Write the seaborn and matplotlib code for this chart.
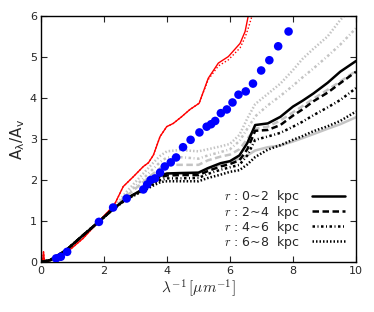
import numpy as np
import pandas as pd
import matplotlib
matplotlib.use('Agg')
import matplotlib.pyplot as plt
import seaborn as sns

# observed extinction curve (blue dots)
obs_x = [0.48, 0.63, 0.83, 1.84, 2.29, 2.72, 3.25, 3.37, 3.48, 3.62, 3.78, 3.93, 4.12, 4.29,
         4.51, 4.75, 5.03, 5.26, 5.40, 5.53, 5.71, 5.90, 6.08, 6.27, 6.50, 6.73, 6.99, 7.25,
         7.53, 7.86]
obs_y = [0.09, 0.13, 0.25, 0.98, 1.33, 1.55, 1.77, 1.89, 2.00, 2.04, 2.18, 2.33, 2.43, 2.55,
         2.80, 2.98, 3.16, 3.30, 3.36, 3.44, 3.63, 3.72, 3.89, 4.08, 4.16, 4.35, 4.67, 4.92,
         5.26, 5.62]

# red curves
red_x = [0.0, 0.05, 0.08, 0.11, 0.15, 0.39, 0.81, 1.34, 1.77, 2.19, 2.35, 2.61, 2.93, 3.25,
         3.41, 3.57, 3.78, 3.99, 4.20, 4.46, 4.73, 5.02, 5.31, 5.63, 5.95, 6.32, 6.48, 6.58, 6.70]
red_y = [0.0, 0.02, 0.25, 0.02, 0.0, 0.07, 0.23, 0.58, 0.94, 1.28, 1.43, 1.84, 2.08, 2.33,
         2.42, 2.61, 3.06, 3.30, 3.38, 3.54, 3.72, 3.87, 4.48, 4.85, 5.01, 5.33, 5.62, 6.00, 6.30]
red_dot_y = [0.0, 0.02, 0.25, 0.02, 0.0, 0.07, 0.23, 0.58, 0.94, 1.28, 1.43, 1.84, 2.08, 2.33,
             2.42, 2.61, 3.06, 3.30, 3.38, 3.54, 3.72, 3.87, 4.45, 4.78, 4.93, 5.22, 5.48, 5.70, 6.00]

# model curves (common grid)
grid = [0.0, 0.3, 0.8, 1.3, 1.8, 2.3, 2.7, 3.2, 3.6, 3.8, 4.0, 4.4, 5.0, 5.3, 5.7, 6.0, 6.3,
        6.55, 6.8, 7.2, 7.6, 8.0, 8.3, 8.65, 9.1, 9.5, 10.0]
black_r0 = [0.0, 0.05, 0.29, 0.63, 0.96, 1.30, 1.54, 1.76, 1.98, 2.11, 2.16, 2.17, 2.18, 2.29,
            2.41, 2.46, 2.60, 2.90, 3.34, 3.38, 3.54, 3.79, 3.93, 4.11, 4.37, 4.64, 4.90]
black_r2 = [0.0, 0.05, 0.29, 0.63, 0.96, 1.30, 1.54, 1.75, 1.95, 2.07, 2.11, 2.12, 2.12, 2.22,
            2.33, 2.39, 2.48, 2.75, 3.20, 3.22, 3.34, 3.57, 3.72, 3.92, 4.13, 4.36, 4.64]
black_r4 = [0.0, 0.05, 0.29, 0.63, 0.96, 1.30, 1.53, 1.74, 1.92, 2.00, 2.04, 2.04, 2.05, 2.15,
            2.25, 2.31, 2.37, 2.60, 2.98, 3.06, 3.15, 3.30, 3.42, 3.58, 3.77, 3.95, 4.24]
black_r6 = [0.0, 0.05, 0.29, 0.63, 0.96, 1.30, 1.52, 1.72, 1.88, 1.95, 1.97, 1.97, 1.97, 2.05,
            2.13, 2.20, 2.24, 2.38, 2.56, 2.74, 2.85, 2.98, 3.07, 3.19, 3.31, 3.44, 3.67]
grey_r0 = [0.0, 0.05, 0.29, 0.63, 0.96, 1.30, 1.54, 1.76, 1.98, 2.11, 2.15, 2.16, 2.17, 2.27,
           2.38, 2.45, 2.52, 2.60, 2.72, 2.80, 2.84, 2.94, 3.02, 3.12, 3.25, 3.36, 3.53]
grey_r2 = [0.0, 0.05, 0.29, 0.63, 0.96, 1.30, 1.60, 1.92, 2.18, 2.30, 2.37, 2.37, 2.37, 2.48,
           2.57, 2.62, 2.75, 3.00, 3.25, 3.30, 3.45, 3.65, 3.80, 3.98, 4.20, 4.40, 4.66]
grey_r4 = [0.0, 0.05, 0.29, 0.63, 0.96, 1.30, 1.63, 2.00, 2.30, 2.45, 2.55, 2.56, 2.52, 2.60,
           2.68, 2.75, 2.95, 3.25, 3.55, 3.82, 4.05, 4.30, 4.50, 4.72, 5.02, 5.30, 5.70]
grey_r6 = [0.0, 0.05, 0.29, 0.63, 0.96, 1.32, 1.70, 2.12, 2.45, 2.60, 2.70, 2.73, 2.70, 2.75,
           2.82, 2.88, 3.10, 3.50, 3.85, 4.10, 4.35, 4.68, 4.95, 5.20, 5.50, 5.90, 6.30]

labels = [r'$r$ : 0~2  kpc', r'$r$ : 2~4  kpc', r'$r$ : 4~6  kpc', r'$r$ : 6~8  kpc']
# short dash patterns (scaled by line width)
styles = ['-', (0, (2.6, 1.4)), (0, (1.0, 1.0, 0.4, 1.0)), (0, (0.6, 0.8))]

sns.set_style('ticks')
plt.rcParams['font.family'] = ['DejaVu Sans']
plt.rcParams['mathtext.fontset'] = 'cm'
plt.rcParams['xtick.direction'] = 'in'
plt.rcParams['ytick.direction'] = 'in'

fig = plt.figure(figsize=(3.74, 3.12), dpi=100)
ax = fig.add_axes([0.1096, 0.160, 0.8422, 0.789])

grey = '#c4c4c4'
for ys, ls in zip([grey_r0, grey_r2, grey_r4, grey_r6], styles):
    sns.lineplot(x=grid, y=ys, ax=ax, color=grey, lw=1.8, linestyle=ls, sort=False,
                 estimator=None, zorder=1)

sns.lineplot(x=red_x, y=red_y, ax=ax, color='red', lw=1, sort=False, estimator=None, zorder=2)
sns.lineplot(x=red_x, y=red_dot_y, ax=ax, color='red', lw=1, linestyle=(0, (1, 1.5)), sort=False,
             estimator=None, zorder=2)

for ys, ls, lab in zip([black_r0, black_r2, black_r4, black_r6], styles, labels):
    sns.lineplot(x=grid, y=ys, ax=ax, color='black', lw=1.8, linestyle=ls, sort=False,
                 estimator=None, label=lab, zorder=3)

sns.scatterplot(x=obs_x, y=obs_y, ax=ax, color='blue', s=38, edgecolor='none', zorder=4)

ax.set_xlim(0, 10)
ax.set_ylim(0, 6)
ax.set_xticks([0, 2, 4, 6, 8, 10])
ax.set_yticks([0, 1, 2, 3, 4, 5, 6])
ax.tick_params(top=True, right=True, labelsize=8, length=4, width=0.8, pad=3)
for s in ax.spines.values():
    s.set_color('black')
    s.set_linewidth(1)
ax.set_xlabel(r'$\lambda^{-1}\,[\mu m^{-1}]$', fontsize=11, labelpad=1)
ax.set_ylabel(r'$\mathregular{A_{\lambda}/A_{v}}$', fontsize=11, labelpad=2)

ax.legend(loc='lower right', frameon=False, markerfirst=False, fontsize=9,
          handlelength=2.6, labelspacing=-0.15, borderaxespad=0.5, handletextpad=1.0)

fig.savefig('out.png', dpi=100)
